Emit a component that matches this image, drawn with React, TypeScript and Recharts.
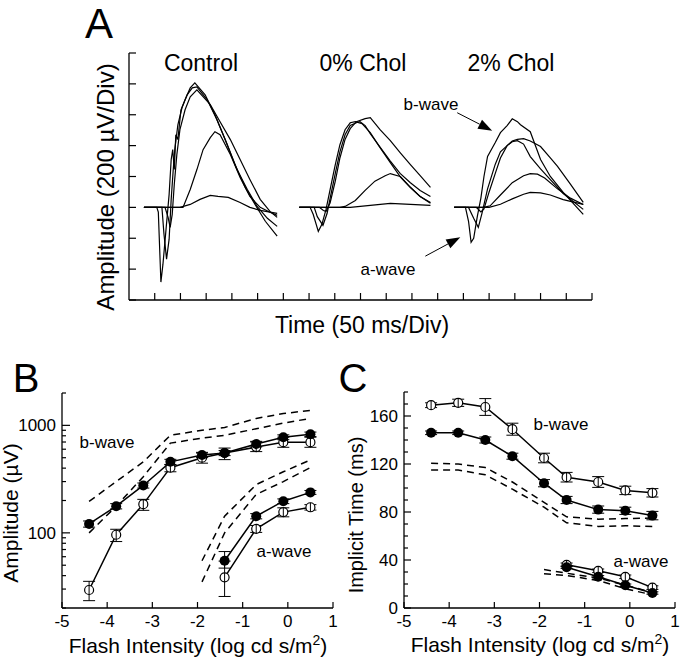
import React from 'react'
import { LineChart, Line, XAxis, YAxis, ErrorBar, ReferenceLine } from 'recharts'

const FONT = '"Liberation Sans", Arial, Helvetica, sans-serif'

// ---- Panel A: ERG traces, [time ms from axis origin, amplitude µV] ----
const control1 = [[29,0],[54,0],[57,-30],[62,-484],[66,-368],[72,-142],[78,84],[82,310],[85,374],[88,245],[91,471],[95,439],[101,632],[109,697],[119,774],[128,806],[148,729],[167,600],[187,439],[206,277],[226,129],[245,19],[265,-90],[288,-187]]
const control2 = [[29,0],[64,0],[68,-174],[73,-335],[78,-206],[82,52],[86,245],[89,374],[95,535],[103,645],[113,729],[123,774],[132,781],[152,697],[171,568],[191,406],[210,245],[230,116],[249,6],[269,-71],[288,-123]]
const control3 = [[29,0],[70,0],[76,-65],[80,-129],[84,-45],[88,148],[93,342],[99,503],[109,632],[119,716],[132,761],[158,665],[177,555],[197,439],[216,310],[235,181],[255,52],[274,-26],[288,-65]]
const control4 = [[29,0],[105,0],[119,116],[132,245],[144,374],[158,452],[167,490],[177,471],[197,342],[216,194],[235,71],[255,0],[274,-32],[288,-52]]
const control5 = [[29,0],[99,0],[119,19],[138,52],[158,77],[173,71],[193,65],[216,32],[235,0],[255,-19],[288,-39]]

const chol0_1 = [[331,0],[352,0],[358,-45],[368,-155],[375,-110],[383,-13],[391,116],[401,277],[410,406],[420,503],[430,548],[440,555],[453,542],[469,484],[488,387],[508,290],[527,200],[547,129],[566,71],[586,32]]
const chol0_2 = [[331,0],[360,0],[366,-60],[377,-116],[385,-40],[391,60],[401,220],[410,360],[420,470],[430,530],[442,548],[449,555],[459,530],[469,477],[488,390],[508,300],[527,220],[547,160],[566,110],[586,71]]
const chol0_3 = [[331,0],[370,0],[378,-20],[383,-26],[391,30],[401,170],[410,320],[420,440],[430,510],[442,555],[459,575],[469,581],[488,503],[508,432],[527,355],[547,277],[566,206],[586,129]]
const chol0_4 = [[331,0],[410,0],[420,6],[440,45],[459,110],[478,170],[498,205],[508,219],[527,200],[547,130],[566,70],[586,26]]
const chol0_5 = [[331,0],[430,0],[469,13],[508,26],[547,20],[586,13]]

const chol2_1 = [[632,0],[654,0],[660,-90],[665,-226],[670,-200],[677,-60],[684,60],[690,200],[697,330],[712,420],[722,484],[735,530],[745,574],[755,555],[761,535],[780,490],[800,310],[819,200],[844,97],[883,-45]]
const chol2_2 = [[632,0],[660,0],[670,-70],[679,-129],[686,-40],[697,120],[712,280],[722,360],[735,400],[745,425],[755,432],[767,410],[780,329],[800,250],[819,180],[844,90],[883,-13]]
const chol2_3 = [[632,0],[675,0],[684,-30],[690,-10],[700,100],[712,220],[722,320],[735,400],[745,430],[755,440],[767,445],[780,430],[800,394],[819,320],[833,265],[858,150],[883,32]]
const chol2_4 = [[632,0],[690,0],[702,10],[722,80],[745,160],[767,205],[780,219],[794,215],[808,190],[833,120],[858,60],[883,19]]
const chol2_5 = [[632,0],[700,0],[722,20],[745,55],[767,85],[780,97],[800,94],[819,80],[844,50],[883,19]]

const traces = [control1, control2, control3, control4, control5, chol0_1, chol0_2, chol0_3, chol0_4, chol0_5, chol2_1, chol2_2, chol2_3, chol2_4, chol2_5]
const timeTicks = [50,100,150,200,250,300,350,400,450,500,550,600,650,700,750,800,850,900]
const ampTicks = [-600,-400,-200,0,200,400,600,800,1000]

// ---- Panels B and C ----
const flash = [-4.4, -3.8, -3.2, -2.6, -1.9, -1.4, -0.7, -0.1, 0.5]
const flashA = [-1.4, -0.7, -0.1, 0.5]
const flashADash = [-1.9, -1.4, -0.7, -0.1, 0.5]

const bAmpFilled = [121, 177, 276, 458, 531, 553, 670, 776, 826]
const bAmpFilledErr = [[8,8],[10,10],[15,15],[25,25],[30,30],[30,30],[40,40],[40,40],[40,40]]
const bAmpOpen = [29.4, 96, 185, 404, 500, 553, 628, 698, 698]
const bAmpOpenErr = [[6,6],[13,12],[23,20],[34,26],[55,53],[73,62],[58,72],[73,78],[73,78]]
const bAmpDashHi = [196, 300, 458, 809, 900, 955, 1160, 1290, 1375]
const bAmpDashLo = [100, 177, 333, 684, 760, 809, 930, 1050, 1160]
const aAmpFilled = [55, 143, 197, 238]
const aAmpFilledErr = [[8,12],[8,8],[10,10],[10,10]]
const aAmpOpen = [38.6, 109, 156, 173]
const aAmpOpenErr = [[13,16],[8,8],[15,15],[10,10]]
const aAmpDashHi = [55, 143, 281, 370, 477]
const aAmpDashLo = [35, 100, 228, 300, 405]
const ampLogTicks = [20,30,40,50,60,70,80,90,100,200,300,400,500,600,700,800,900,1000,2000]

const bTimeOpen = [169, 171, 167.5, 149, 125, 109, 105, 98, 96]
const bTimeOpenErr = [2, 3, 7, 5, 4, 4, 4.5, 3.5, 3.5]
const bTimeFilled = [146, 146, 140, 126.5, 104, 90, 82, 81, 77]
const bTimeFilledErr = [1.5, 1.5, 2.5, 2.5, 3, 3, 3, 3, 3.5]
const bTimeDashHi = [120.6, 120, 117, 105, 88, 76, 74, 74.5, 75]
const bTimeDashLo = [115, 115, 111, 99, 84, 71, 68, 68.5, 68]
const aTimeOpen = [36, 31, 26, 17]
const aTimeOpenErr = [1.5, 1.5, 1.5, 1.5]
const aTimeFilled = [34, 26, 19, 12.5]
const aTimeFilledErr = [1, 1, 1, 1]
const aTimeDashHi = [32, 29, 25, 19, 13]
const aTimeDashLo = [28.5, 27, 23, 16, 11]
const timeMsTicks = [0,10,20,30,40,50,60,70,80,90,100,110,120,130,140,150,160,170,180]

const flashTicks = [-5, -4, -3, -2, -1, 0, 1]

const pts = (arr: number[][]) => arr.map(([t, v]) => ({ t, v }))
const series = (xs: number[], ys: number[], errs?: any[]) =>
  xs.map((x, i) => ({ x, y: ys[i], err: errs ? errs[i] : 0 }))

const leftTick = (labels: number[], majorLen: number, minorLen: number) => (props: any) => {
  const { x, y, payload } = props
  const major = labels.includes(payload.value)
  return (
    <g>
      <line x1={x} x2={x + (major ? majorLen : minorLen)} y1={y} y2={y} stroke="#000" strokeWidth={1.2} />
      {major && (
        <text x={x - 6} y={y} dy="0.36em" textAnchor="end" fontSize={17} fontFamily={FONT} fill="#000">
          {payload.value}
        </text>
      )}
    </g>
  )
}

const bottomTick = (showLabel: boolean, len: number) => (props: any) => {
  const { x, y, payload } = props
  return (
    <g>
      <line x1={x} x2={x} y1={y} y2={y - len} stroke="#000" strokeWidth={1.2} />
      {showLabel && (
        <text x={x} y={y + 19} textAnchor="middle" fontSize={17} fontFamily={FONT} fill="#000">
          {payload.value}
        </text>
      )}
    </g>
  )
}

const OpenDot = (props: any) => {
  const { cx, cy } = props
  return (
    <g>
      <circle cx={cx} cy={cy} r={4.5} fill="#fff" stroke="#000" strokeWidth={1.2} />
      <line x1={cx} x2={cx} y1={cy - 4.5} y2={cy + 4.5} stroke="#000" strokeWidth={1} />
    </g>
  )
}
const FilledDot = (props: any) => <circle cx={props.cx} cy={props.cy} r={5} fill="#000" />

const Arrow = (props: any) => {
  const { x1, y1, x2, y2 } = props
  const a = Math.atan2(y2 - y1, x2 - x1)
  const hl = 14, hw = 5
  const bx = x2 - hl * Math.cos(a), by = y2 - hl * Math.sin(a)
  const px = -Math.sin(a) * hw, py = Math.cos(a) * hw
  return (
    <g>
      <line x1={x1} y1={y1} x2={bx} y2={by} stroke="#000" strokeWidth={1} />
      <polygon points={`${x2},${y2} ${bx + px},${by + py} ${bx - px},${by - py}`} fill="#000" />
    </g>
  )
}

const axisLine = { stroke: '#000', strokeWidth: 1.3 }

// axes get width/height 1 (0 stops them from rendering), margins take the rest
function PanelA() {
  return (
    <LineChart width={680} height={340} margin={{ top: 53, right: 88, bottom: 39, left: 128 }}>
      <XAxis dataKey="t" type="number" domain={[0, 900]} ticks={timeTicks} interval={0} height={1}
        tickSize={0} tickMargin={0} axisLine={axisLine} tickLine={false} tick={bottomTick(false, 7)} allowDataOverflow />
      <YAxis type="number" domain={[-600, 1000]} ticks={ampTicks} interval={0} width={1}
        tickSize={0} tickMargin={0} axisLine={axisLine} tickLine={false} tick={leftTick([], 7, 7)} allowDataOverflow />
      {traces.map((tr, i) => (
        <Line key={i} data={pts(tr)} dataKey="v" type="linear" stroke="#000" strokeWidth={1.2}
          dot={false} isAnimationActive={false} />
      ))}
      <ReferenceLine segment={[{ x: 638, y: 613 }, { x: 706, y: 497 }]} shape={Arrow} />
      <ReferenceLine segment={[{ x: 576, y: -316 }, { x: 644, y: -194 }]} shape={Arrow} />
    </LineChart>
  )
}

function PanelB() {
  return (
    <LineChart width={345} height={297} margin={{ top: 33, right: 12, bottom: 48, left: 61 }}>
      <XAxis dataKey="x" type="number" domain={[-5, 1]} ticks={flashTicks} interval={0} height={1}
        tickSize={0} tickMargin={0} axisLine={axisLine} tickLine={false} tick={bottomTick(true, 6)} allowDataOverflow />
      <YAxis type="number" scale="log" domain={[20, 2000]} ticks={ampLogTicks} interval={0} width={1}
        tickSize={0} tickMargin={0} axisLine={axisLine} tickLine={false} tick={leftTick([100, 1000], 8, 4)} allowDataOverflow />
      <Line data={series(flash, bAmpDashHi)} dataKey="y" stroke="#000" strokeWidth={1.5} strokeDasharray="7 5" dot={false} isAnimationActive={false} />
      <Line data={series(flash, bAmpDashLo)} dataKey="y" stroke="#000" strokeWidth={1.5} strokeDasharray="7 5" dot={false} isAnimationActive={false} />
      <Line data={series(flashADash, aAmpDashHi)} dataKey="y" stroke="#000" strokeWidth={1.5} strokeDasharray="7 5" dot={false} isAnimationActive={false} />
      <Line data={series(flashADash, aAmpDashLo)} dataKey="y" stroke="#000" strokeWidth={1.5} strokeDasharray="7 5" dot={false} isAnimationActive={false} />
      <Line data={series(flash, bAmpOpen, bAmpOpenErr)} dataKey="y" stroke="#000" strokeWidth={1.5} dot={OpenDot} isAnimationActive={false}>
        <ErrorBar dataKey="err" width={6} stroke="#000" strokeWidth={1} direction="y" />
      </Line>
      <Line data={series(flash, bAmpFilled, bAmpFilledErr)} dataKey="y" stroke="#000" strokeWidth={1.5} dot={FilledDot} isAnimationActive={false}>
        <ErrorBar dataKey="err" width={6} stroke="#000" strokeWidth={1} direction="y" />
      </Line>
      <Line data={series(flashA, aAmpOpen, aAmpOpenErr)} dataKey="y" stroke="#000" strokeWidth={1.5} dot={OpenDot} isAnimationActive={false}>
        <ErrorBar dataKey="err" width={6} stroke="#000" strokeWidth={1} direction="y" />
      </Line>
      <Line data={series(flashA, aAmpFilled, aAmpFilledErr)} dataKey="y" stroke="#000" strokeWidth={1.5} dot={FilledDot} isAnimationActive={false}>
        <ErrorBar dataKey="err" width={6} stroke="#000" strokeWidth={1} direction="y" />
      </Line>
    </LineChart>
  )
}

function PanelC() {
  return (
    <LineChart width={340} height={297} margin={{ top: 32, right: 5, bottom: 48, left: 63 }}>
      <XAxis dataKey="x" type="number" domain={[-5, 1]} ticks={flashTicks} interval={0} height={1}
        tickSize={0} tickMargin={0} axisLine={axisLine} tickLine={false} tick={bottomTick(true, 6)} allowDataOverflow />
      <YAxis type="number" domain={[0, 180]} ticks={timeMsTicks} interval={0} width={1}
        tickSize={0} tickMargin={0} axisLine={axisLine} tickLine={false} tick={leftTick([0, 40, 80, 120, 160], 7, 4)} allowDataOverflow />
      <Line data={series(flash, bTimeDashHi)} dataKey="y" stroke="#000" strokeWidth={1.5} strokeDasharray="7 5" dot={false} isAnimationActive={false} />
      <Line data={series(flash, bTimeDashLo)} dataKey="y" stroke="#000" strokeWidth={1.5} strokeDasharray="7 5" dot={false} isAnimationActive={false} />
      <Line data={series(flashADash, aTimeDashHi)} dataKey="y" stroke="#000" strokeWidth={1.5} strokeDasharray="7 5" dot={false} isAnimationActive={false} />
      <Line data={series(flashADash, aTimeDashLo)} dataKey="y" stroke="#000" strokeWidth={1.5} strokeDasharray="7 5" dot={false} isAnimationActive={false} />
      <Line data={series(flash, bTimeOpen, bTimeOpenErr)} dataKey="y" stroke="#000" strokeWidth={1.5} dot={OpenDot} isAnimationActive={false}>
        <ErrorBar dataKey="err" width={6} stroke="#000" strokeWidth={1} direction="y" />
      </Line>
      <Line data={series(flash, bTimeFilled, bTimeFilledErr)} dataKey="y" stroke="#000" strokeWidth={1.5} dot={FilledDot} isAnimationActive={false}>
        <ErrorBar dataKey="err" width={6} stroke="#000" strokeWidth={1} direction="y" />
      </Line>
      <Line data={series(flashA, aTimeOpen, aTimeOpenErr)} dataKey="y" stroke="#000" strokeWidth={1.5} dot={OpenDot} isAnimationActive={false}>
        <ErrorBar dataKey="err" width={6} stroke="#000" strokeWidth={1} direction="y" />
      </Line>
      <Line data={series(flashA, aTimeFilled, aTimeFilledErr)} dataKey="y" stroke="#000" strokeWidth={1.5} dot={FilledDot} isAnimationActive={false}>
        <ErrorBar dataKey="err" width={6} stroke="#000" strokeWidth={1} direction="y" />
      </Line>
    </LineChart>
  )
}

const T = (p: any) => <text fontFamily={FONT} fill="#000" textAnchor="middle" {...p} />

export default function App() {
  return (
    <div style={{ position: 'absolute', left: 0, top: 0, width: 680, height: 657, background: '#fff', overflow: 'hidden' }}>
      <div style={{ position: 'absolute', left: 0, top: 0 }}><PanelA /></div>
      <div style={{ position: 'absolute', left: 0, top: 360 }}><PanelB /></div>
      <div style={{ position: 'absolute', left: 340, top: 360 }}><PanelC /></div>
      <svg width={680} height={657} style={{ position: 'absolute', left: 0, top: 0, pointerEvents: 'none' }}>
        <T x={99} y={38} fontSize={42}>A</T>
        <T x={201} y={71} fontSize={23}>Control</T>
        <T x={363} y={71} fontSize={23}>0% Chol</T>
        <T x={511} y={71} fontSize={23}>2% Chol</T>
        <T x={362} y={333} fontSize={23}>Time (50 ms/Div)</T>
        <T x={114} y={187} fontSize={24} transform="rotate(-90 114 187)">Amplitude (200 µV/Div)</T>
        <T x={431} y={110} fontSize={17}>b-wave</T>
        <T x={388} y={275} fontSize={17}>a-wave</T>

        <T x={26} y={392} fontSize={40}>B</T>
        <T x={18} y={513} fontSize={21} transform="rotate(-90 18 513)">Amplitude (µV)</T>
        <T x={198} y={653} fontSize={21}>Flash Intensity (log cd s/m<tspan dy={-8} fontSize={14}>2</tspan><tspan dy={8}>)</tspan></T>
        <T x={107} y={448} fontSize={17}>b-wave</T>
        <T x={284} y={557} fontSize={17}>a-wave</T>

        <T x={353} y={392} fontSize={40}>C</T>
        <T x={363} y={515} fontSize={20} transform="rotate(-90 363 515)">Implicit Time (ms)</T>
        <T x={540} y={652} fontSize={21}>Flash Intensity (log cd s/m<tspan dy={-8} fontSize={14}>2</tspan><tspan dy={8}>)</tspan></T>
        <T x={561} y={430} fontSize={17}>b-wave</T>
        <T x={641} y={567} fontSize={17}>a-wave</T>
      </svg>
    </div>
  )
}
